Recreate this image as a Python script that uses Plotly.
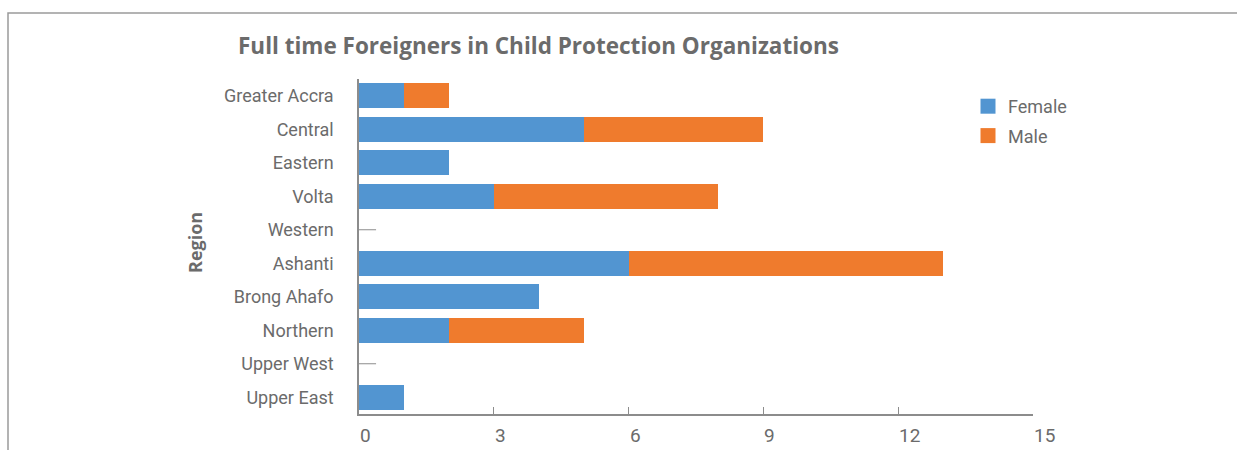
import plotly.graph_objects as go

# Regions listed top to bottom as they appear on the chart
regions = ["Greater Accra", "Central", "Eastern", "Volta", "Western",
           "Ashanti", "Brong Ahafo", "Northern", "Upper West", "Upper East"]
female = [1, 5, 2, 3, 0, 6, 4, 2, 0, 1]
male = [1, 4, 0, 5, 0, 7, 0, 3, 0, 0]
x_ticks = [0, 3, 6, 9, 12, 15]

BLUE = "#5295D1"
ORANGE = "#EF7B2D"
TEXT = "#6B6B6B"
AXIS = "#8C8C8C"
FONT = "Roboto"
HEAD = "Open Sans"

W, H = 1237, 450
L, R, T, B = 359, 204, 79, 36

fig = go.Figure()
fig.add_trace(go.Bar(y=regions, x=female, name="Female", orientation="h",
                     marker=dict(color=BLUE, line=dict(width=0)), showlegend=False))
fig.add_trace(go.Bar(y=regions, x=male, name="Male", orientation="h",
                     marker=dict(color=ORANGE, line=dict(width=0)), showlegend=False))

# legend entries with square swatches
for name, col in [("Female", BLUE), ("Male", ORANGE)]:
    fig.add_trace(go.Scatter(x=[None], y=[None], mode="markers", name=name,
                             legendgroup=name,
                             marker=dict(symbol="square", size=15, color=col)))

# short stub at the axis for regions with no foreign staff
for reg, f, m in zip(regions, female, male):
    if f + m == 0:
        fig.add_shape(type="line", xref="x", yref="y", x0=0, x1=0.38,
                      y0=reg, y1=reg, line=dict(color=AXIS, width=1))

# x tick labels placed to the right of each tick
for v in x_ticks:
    fig.add_annotation(x=v, y=0, xref="x", yref="paper", text=str(v),
                       xanchor="left", yanchor="top", yshift=-8, xshift=-1,
                       showarrow=False, font=dict(family=FONT, size=19, color=TEXT))

# outer frame
pw, ph = W - L - R, H - T - B
def px(xp):
    return (xp - L) / pw
def py(yp):
    return (H - B - yp) / ph
fig.add_shape(type="rect", xref="paper", yref="paper",
              x0=px(8), x1=px(W + 5), y0=py(H + 10), y1=py(13),
              line=dict(color="#9A9A9A", width=1.5), layer="below")

# axis title
fig.add_annotation(x=px(195), y=py(243), xref="paper", yref="paper", text="<b>Region</b>",
                   textangle=-90, showarrow=False, xanchor="center", yanchor="middle",
                   font=dict(family=HEAD, size=18, color=TEXT))

fig.update_layout(
    width=W, height=H,
    margin=dict(l=L, r=R, t=T, b=B, autoexpand=False),
    paper_bgcolor="white", plot_bgcolor="white",
    barmode="stack", bargap=0.254,
    title=dict(text="<b>Full time Foreigners in Child Protection Organizations</b>",
               x=238 / W, xanchor="left", xref="container", y=1 - 46 / H, yanchor="middle",
               font=dict(family=HEAD, size=22.5, color=TEXT)),
    xaxis=dict(range=[0, 15], tickvals=x_ticks, showticklabels=False,
               ticks="inside", ticklen=7, tickcolor=AXIS, tickwidth=1,
               showline=True, linecolor=AXIS, linewidth=1.5,
               showgrid=False, zeroline=False, fixedrange=True),
    yaxis=dict(categoryorder="array", categoryarray=regions[::-1],
               showline=True, linecolor=AXIS, linewidth=1.5, ticks="",
               showgrid=False, zeroline=False, ticklabelstandoff=20,
               tickfont=dict(family=FONT, size=18, color=TEXT)),
    legend=dict(x=px(968), y=py(88), xanchor="left", yanchor="top",
                traceorder="grouped", font=dict(family=FONT, size=18, color=TEXT),
                itemwidth=30, tracegroupgap=3, bgcolor="rgba(0,0,0,0)"),
    showlegend=True,
)

fig.write_html("out.html")
